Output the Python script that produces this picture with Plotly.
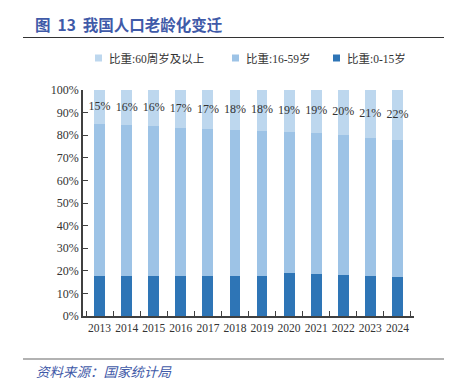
import plotly.graph_objects as go

years = ["2013", "2014", "2015", "2016", "2017", "2018", "2019", "2020", "2021", "2022", "2023", "2024"]
share_0_15 = [17.5, 17.5, 17.6, 17.7, 17.8, 17.8, 17.8, 19.0, 18.6, 18.1, 17.5, 17.1]
share_60_plus = [14.9, 15.5, 16.1, 16.7, 17.3, 17.9, 18.1, 18.7, 18.9, 19.8, 21.1, 22.0]
share_16_59 = [round(100 - a - b, 1) for a, b in zip(share_0_15, share_60_plus)]
labels_60 = ["15%", "16%", "16%", "17%", "17%", "18%", "18%", "19%", "19%", "20%", "21%", "22%"]
names = ["比重:60周岁及以上", "比重:16-59岁", "比重:0-15岁"]
colors = ["#BDD7EE", "#9DC3E6", "#2E75B6"]

# page has an 8px body margin: size the figure to fit the remaining window
OFF = 8
W, H = 452 - OFF, 380 - OFF
ML, MR, MT, MB = 83 - OFF, 38, 90 - OFF, 64
PW, PH = W - ML - MR, H - MT - MB


def px(x):
    return (x - OFF - ML) / PW


def py(y):
    return (H + OFF - MB - y) / PH


serif = "Liberation Serif, Times New Roman, serif"
cjk = "Noto Sans CJK SC"

fig = go.Figure()
fig.add_trace(go.Bar(x=years, y=share_0_15, name=names[2], marker_color=colors[2], marker_line_width=0))
fig.add_trace(go.Bar(x=years, y=share_16_59, name=names[1], marker_color=colors[1], marker_line_width=0))
fig.add_trace(go.Bar(x=years, y=share_60_plus, name=names[0], marker_color=colors[0], marker_line_width=0))
fig.add_trace(go.Scatter(
    x=years, y=[100 - v / 2 for v in share_60_plus], text=labels_60, mode="text",
    textfont=dict(family=serif, size=12, color="#333333"), showlegend=False, hoverinfo="skip"))

shapes = []
annotations = []
# top and bottom rules
shapes.append(dict(type="line", xref="paper", yref="paper", x0=px(23), x1=px(445), y0=py(37.5), y1=py(37.5),
                   line=dict(color="#333333", width=1.2)))
shapes.append(dict(type="line", xref="paper", yref="paper", x0=px(23), x1=px(445), y0=py(359), y1=py(359),
                   line=dict(color="#999999", width=1.5)))
# title
annotations.append(dict(text="<b>图  13  我国人口老龄化变迁</b>", xref="paper", yref="paper", x=px(33), y=py(24),
                        xanchor="left", yanchor="middle", showarrow=False,
                        font=dict(family=cjk, size=15.5, color="#3F5AA8")))
# source
annotations.append(dict(text="<i>资料来源：国家统计局</i>", xref="paper", yref="paper", x=px(34), y=py(371),
                        xanchor="left", yanchor="middle", showarrow=False,
                        font=dict(family=cjk, size=13.5, color="#3F5AA8")))
# manual legend
leg_x = [95, 232, 333]
for i, (nm, c) in enumerate(zip(names, colors)):
    x0 = leg_x[i]
    shapes.append(dict(type="rect", xref="paper", yref="paper", x0=px(x0), x1=px(x0 + 7),
                       y0=py(61.5), y1=py(54.5), fillcolor=c, line=dict(width=0)))
    annotations.append(dict(text=nm, xref="paper", yref="paper", x=px(x0 + 12), y=py(58),
                            xanchor="left", yanchor="middle", showarrow=False,
                            font=dict(family=serif + ", " + cjk, size=11.5, color="#333333")))

fig.update_layout(
    width=W, height=H, barmode="stack", bargap=0.6,
    margin=dict(l=ML, r=MR, t=MT, b=MB),
    paper_bgcolor="white", plot_bgcolor="white",
    showlegend=False, shapes=shapes, annotations=annotations,
    xaxis=dict(showline=True, linecolor="#404040", linewidth=1.5, ticks="inside", ticklen=5,
               tickcolor="#404040", tickson="boundaries", tickangle=0, automargin=False,
               tickfont=dict(family=serif, size=11.5, color="#333333"), showgrid=False),
    yaxis=dict(range=[0, 100], dtick=10, ticksuffix="%", showline=True, linecolor="#404040", linewidth=1.5,
               ticks="inside", ticklen=5, tickcolor="#404040", showgrid=False, zeroline=False,
               automargin=False, tickfont=dict(family=serif, size=12, color="#333333")),
)

fig.write_html("out.html")
